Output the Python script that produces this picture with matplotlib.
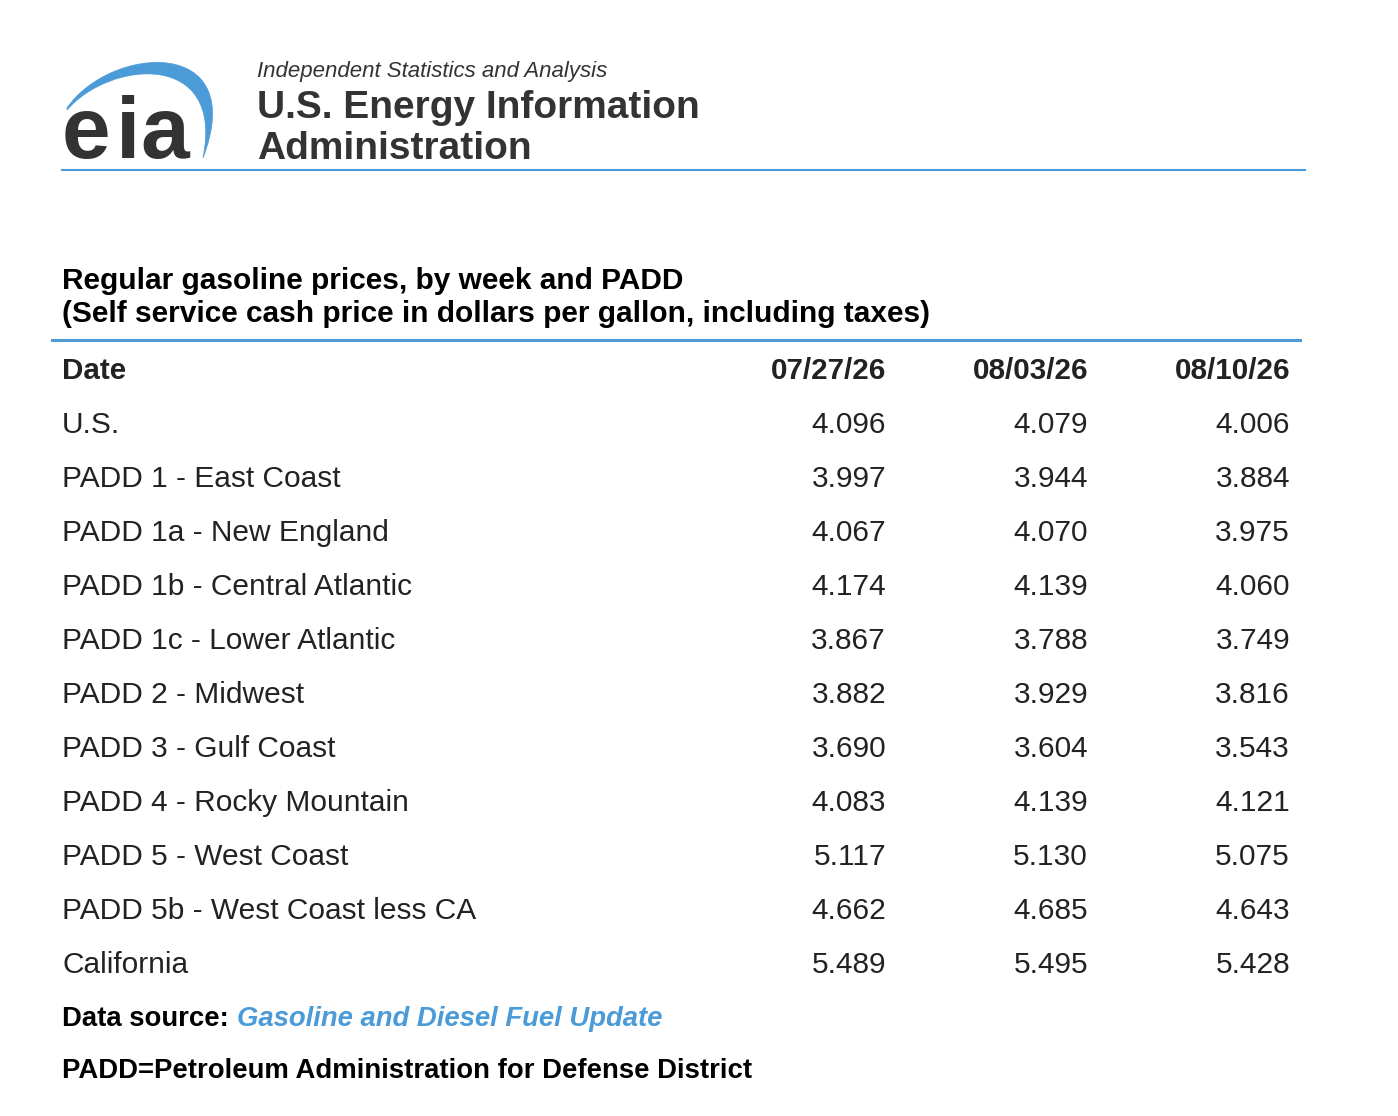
import numpy as np
import matplotlib.pyplot as plt
from matplotlib.path import Path
from matplotlib.patches import PathPatch

# table data
dates = ["07/27/26", "08/03/26", "08/10/26"]
regions = [
    "U.S.",
    "PADD 1 - East Coast",
    "PADD 1a - New England",
    "PADD 1b - Central Atlantic",
    "PADD 1c - Lower Atlantic",
    "PADD 2 - Midwest",
    "PADD 3 - Gulf Coast",
    "PADD 4 - Rocky Mountain",
    "PADD 5 - West Coast",
    "PADD 5b - West Coast less CA",
    "California",
]
week1 = [4.096, 3.997, 4.067, 4.174, 3.867, 3.882, 3.690, 4.083, 5.117, 4.662, 5.489]
week2 = [4.079, 3.944, 4.070, 4.139, 3.788, 3.929, 3.604, 4.139, 5.130, 4.685, 5.495]
week3 = [4.006, 3.884, 3.975, 4.060, 3.749, 3.816, 3.543, 4.121, 5.075, 4.643, 5.428]

BLUE = "#4a9bd8"
DARK = "#222222"
LOGO = "#333333"
FONT = "Liberation Sans"

fig = plt.figure(figsize=(13.98, 11.16), dpi=100)
ax = fig.add_axes([0, 0, 1, 1])
ax.set_xlim(0, 1398)
ax.set_ylim(1116, 0)
ax.axis("off")

# logo swoosh: outer curve then inner curve back
outer = [(67, 108), (110, 45), (250, 35), (203, 158)]
inner = [(225, 50), (110, 60), (67, 110)]
verts = outer + inner + [(67, 108)]
codes = ([Path.MOVETO] + [Path.CURVE4] * 3 + [Path.CURVE4] * 3
         + [Path.CLOSEPOLY])
ax.add_patch(PathPatch(Path(verts, codes), facecolor=BLUE, edgecolor=BLUE,
                       lw=0.5))
# letters placed one by one so the spacing follows the logo
for ch, lx, ha in [("e", 62, "left"), ("i", 128, "center"), ("a", 140, "left")]:
    ax.text(lx, 158, ch, fontsize=63, fontweight="bold", color=LOGO,
            family=FONT, va="baseline", ha=ha)
ax.text(257, 77, "Independent Statistics and Analysis", fontsize=16,
        style="italic", color=LOGO, family=FONT, va="baseline")
ax.text(257, 118, "U.S. Energy Information", fontsize=28, fontweight="bold",
        color=LOGO, family=FONT, va="baseline")
ax.text(257, 159, "Administration", fontsize=28, fontweight="bold",
        color=LOGO, family=FONT, va="baseline")
ax.plot([62, 1305], [170, 170], color=BLUE, lw=1.5)

# title
ax.text(62, 289, "Regular gasoline prices, by week and PADD", fontsize=21.5,
        fontweight="bold", color="black", family=FONT, va="baseline")
ax.text(62, 322, "(Self service cash price in dollars per gallon, including taxes)",
        fontsize=21.5, fontweight="bold", color="black", family=FONT,
        va="baseline")
ax.plot([52, 1300], [340, 340], color=BLUE, lw=2.2)

# header
col_x = [886, 1088, 1290]
ax.text(62, 379, "Date", fontsize=21.3, fontweight="bold", color=DARK,
        family=FONT, va="baseline")
for x, d in zip(col_x, dates):
    ax.text(x, 379, d, fontsize=21.3, fontweight="bold", color=DARK,
            family=FONT, va="baseline", ha="right")

# rows
for i, name in enumerate(regions):
    y = 433 + i * 54
    ax.text(62, y, name, fontsize=21.5, color=DARK, family=FONT,
            va="baseline")
    for x, vals in zip(col_x, [week1, week2, week3]):
        ax.text(x, y, f"{vals[i]:.3f}", fontsize=21.5, color=DARK,
                family=FONT, va="baseline", ha="right")

# footer
ax.text(62, 1026, "Data source:", fontsize=19.8, fontweight="bold",
        color="black", family=FONT, va="baseline")
ax.text(237, 1026, "Gasoline and Diesel Fuel Update", fontsize=19.8,
        fontweight="bold", style="italic", color=BLUE, family=FONT,
        va="baseline")
ax.text(62, 1078, "PADD=Petroleum Administration for Defense District",
        fontsize=19.8, fontweight="bold", color="black", family=FONT,
        va="baseline")

fig.savefig("out.png", dpi=100)
